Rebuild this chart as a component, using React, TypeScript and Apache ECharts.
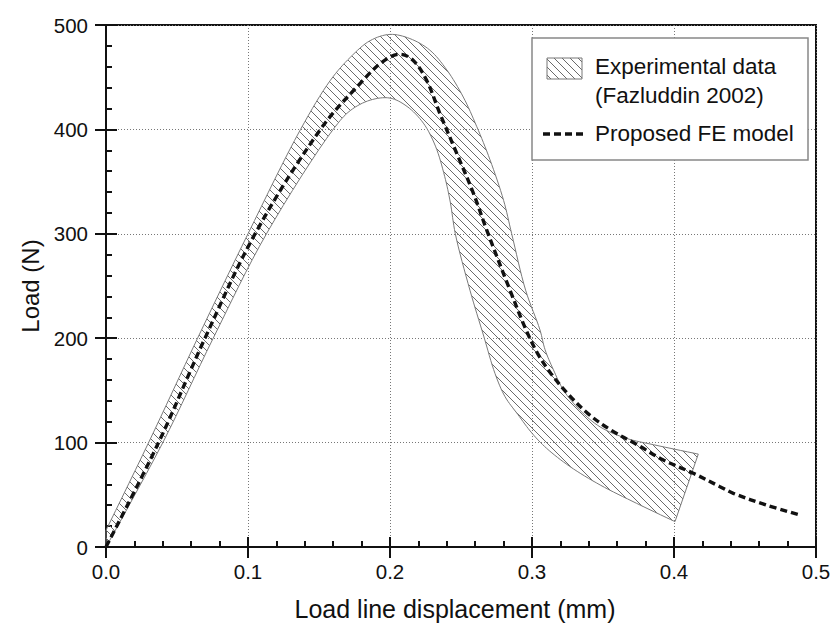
import React, { useEffect, useRef } from 'react';
import * as echarts from 'echarts';

// Axis ticks
const xTickValues = [0, 0.1, 0.2, 0.3, 0.4, 0.5];
const yTickValues = [0, 100, 200, 300, 400, 500];

// Experimental band: upper envelope [displacement (mm), load (N)]
const expUpper: number[][] = [
  [0.0, 16], [0.03, 100], [0.0645, 200], [0.1, 300], [0.137, 400], [0.158, 447],
  [0.172, 469], [0.186, 485], [0.2, 491], [0.214, 487], [0.228, 476], [0.24, 457],
  [0.2516, 431], [0.261, 403], [0.2704, 371], [0.28, 332], [0.2857, 300], [0.2955, 246],
  [0.3056, 208], [0.3092, 189], [0.315, 170], [0.3223, 150], [0.3338, 131], [0.348, 115],
  [0.3667, 104], [0.3855, 98], [0.4171, 89],
];

// Experimental band: lower envelope
const expLower: number[][] = [
  [0.0, 0], [0.04, 100], [0.0755, 200], [0.113, 300], [0.16, 400], [0.172, 418],
  [0.186, 428], [0.2, 430], [0.212, 422], [0.2235, 406], [0.232, 384], [0.2385, 355],
  [0.2425, 330], [0.246, 300], [0.2563, 246], [0.266, 202], [0.274, 166], [0.281, 144],
  [0.29, 127], [0.3, 109], [0.3103, 94.5], [0.3268, 77], [0.348, 59.4], [0.3737, 41.8],
  [0.4007, 24.3],
];

// Proposed FE model
const feModel: number[][] = [
  [0.0, 0], [0.037, 100], [0.0697, 200], [0.105, 300], [0.151, 400], [0.181, 447],
  [0.195, 465], [0.207, 472], [0.2164, 466], [0.2258, 447], [0.2352, 415], [0.247, 377],
  [0.2587, 339], [0.268, 304], [0.2845, 246], [0.2958, 208], [0.3039, 185.5], [0.3134, 166],
  [0.3251, 147], [0.3392, 128], [0.3556, 112], [0.3744, 97.7], [0.3925, 83.3], [0.4136, 70.6],
  [0.4324, 57.8], [0.4418, 51.4], [0.4655, 40], [0.4887, 30.6],
];

const legendExp1 = 'Experimental data';
const legendExp2 = '(Fazluddin 2002)';
const legendFE = 'Proposed FE model';
const xName = 'Load line displacement (mm)';
const yName = 'Load (N)';

const FONT = '"Liberation Sans", Arial, Helvetica, sans-serif';

function makeHatch(size: number, color: string) {
  const c = document.createElement('canvas');
  c.width = size;
  c.height = size;
  const ctx = c.getContext('2d')!;
  ctx.strokeStyle = color;
  ctx.lineWidth = 1;
  ctx.beginPath();
  for (const k of [-size, 0, size]) {
    ctx.moveTo(k, 0);
    ctx.lineTo(k + size, size);
  }
  ctx.stroke();
  return { image: c.toDataURL(), repeat: 'repeat', imageWidth: size, imageHeight: size } as any;
}

// Centripetal Catmull-Rom smoothing in pixel space (for drawing only)
function smoothPath(pts: number[][], steps = 8): number[][] {
  if (pts.length < 3) return pts;
  const out: number[][] = [];
  const P = [pts[0], ...pts, pts[pts.length - 1]];
  const tj = (ti: number, a: number[], b: number[]) =>
    ti + Math.max(Math.pow(Math.hypot(b[0] - a[0], b[1] - a[1]), 0.5), 1e-6);
  for (let i = 1; i < P.length - 2; i++) {
    const p0 = P[i - 1], p1 = P[i], p2 = P[i + 1], p3 = P[i + 2];
    const t0 = 0;
    const t1 = tj(t0, p0, p1);
    const t2 = tj(t1, p1, p2);
    const t3 = tj(t2, p2, p3);
    for (let s = 0; s < steps; s++) {
      const t = t1 + ((t2 - t1) * s) / steps;
      const lerp = (a: number[], b: number[], ta: number, tb: number) => {
        const d = tb - ta;
        return [((tb - t) / d) * a[0] + ((t - ta) / d) * b[0], ((tb - t) / d) * a[1] + ((t - ta) / d) * b[1]];
      };
      const A1 = lerp(p0, p1, t0, t1);
      const A2 = lerp(p1, p2, t1, t2);
      const A3 = lerp(p2, p3, t2, t3);
      const B1 = lerp(A1, A2, t0, t2);
      const B2 = lerp(A2, A3, t1, t3);
      out.push(lerp(B1, B2, t1, t2));
    }
  }
  out.push(pts[pts.length - 1]);
  return out;
}

export default function App() {
  const ref = useRef<HTMLDivElement>(null);

  useEffect(() => {
    if (!ref.current) return;
    const chart = echarts.init(ref.current, undefined, { renderer: 'svg' });
    const hatch = makeHatch(8, '#6a6a6a');

    const axisColor = '#111';
    const labelStyle = { fontSize: 20.5, color: axisColor, fontFamily: FONT };

    const option: any = {
      animation: false,
      backgroundColor: '#ffffff',
      grid: {
        left: 106,
        top: 25,
        right: 19,
        bottom: 81,
        show: true,
        borderColor: axisColor,
        borderWidth: 2,
        backgroundColor: 'transparent',
      },
      xAxis: [
        {
          type: 'value',
          min: xTickValues[0],
          max: xTickValues[xTickValues.length - 1],
          interval: 0.1,
          position: 'bottom',
          axisLine: { show: true, onZero: false, lineStyle: { color: axisColor, width: 2 } },
          axisTick: { show: true, inside: true, length: 10, lineStyle: { color: axisColor, width: 2 } },
          minorTick: { show: true, splitNumber: 5, length: 6, lineStyle: { color: axisColor, width: 2 } },
          axisLabel: { ...labelStyle, margin: 14, formatter: (v: number) => v.toFixed(1) },
          splitLine: { show: true, lineStyle: { color: '#777', width: 1, type: [1, 2] } },
          name: xName,
          nameLocation: 'middle',
          nameGap: 49,
          nameTextStyle: { fontSize: 25, color: axisColor, fontFamily: FONT, padding: [0, 12, 0, 0] },
        },
        {
          type: 'value',
          min: xTickValues[0],
          max: xTickValues[xTickValues.length - 1],
          interval: 0.1,
          position: 'bottom',
          axisLine: { show: false, onZero: false },
          axisTick: { show: true, inside: false, length: 11, lineStyle: { color: axisColor, width: 2 } },
          axisLabel: { show: false },
          splitLine: { show: false },
        },
      ],
      yAxis: [
        {
          type: 'value',
          min: yTickValues[0],
          max: yTickValues[yTickValues.length - 1],
          interval: 100,
          position: 'left',
          axisLine: { show: true, onZero: false, lineStyle: { color: axisColor, width: 2 } },
          axisTick: { show: true, inside: true, length: 11, lineStyle: { color: axisColor, width: 2 } },
          minorTick: { show: true, splitNumber: 5, length: 6, lineStyle: { color: axisColor, width: 2 } },
          axisLabel: { ...labelStyle, margin: 18 },
          splitLine: { show: true, lineStyle: { color: '#777', width: 1, type: [1, 2] } },
          name: yName,
          nameLocation: 'middle',
          nameGap: 63,
          nameTextStyle: { fontSize: 24, color: axisColor, fontFamily: FONT },
        },
        {
          type: 'value',
          min: yTickValues[0],
          max: yTickValues[yTickValues.length - 1],
          interval: 100,
          position: 'left',
          axisLine: { show: false, onZero: false },
          axisTick: { show: true, inside: false, length: 11, lineStyle: { color: axisColor, width: 2 } },
          axisLabel: { show: false },
          splitLine: { show: false },
        },
      ],
      series: [
        {
          type: 'custom',
          name: legendExp1,
          xAxisIndex: 0,
          yAxisIndex: 0,
          data: [[0, 0]],
          z: 3,
          renderItem: (_params: any, api: any) => {
            const up = smoothPath(expUpper.map((p) => api.coord(p)));
            const lo = smoothPath(expLower.map((p) => api.coord(p)));
            const pts = [...up, ...lo.slice().reverse()];
            return {
              type: 'polygon',
              shape: { points: pts },
              style: { fill: hatch, stroke: '#7a7a7a', lineWidth: 1 },
            };
          },
        },
        {
          type: 'line',
          name: legendFE,
          xAxisIndex: 0,
          yAxisIndex: 0,
          data: feModel,
          smooth: 0.35,
          symbol: 'none',
          z: 4,
          lineStyle: { color: '#111', width: 3.4, type: [7, 4] },
        },
      ],
      graphic: [
        {
          type: 'rect',
          z: 100,
          shape: { x: 532, y: 38, width: 276, height: 122 },
          style: { fill: '#fff', stroke: '#888', lineWidth: 1.5 },
        },
        {
          type: 'rect',
          z: 101,
          shape: { x: 547, y: 58, width: 35, height: 21 },
          style: { fill: hatch, stroke: '#777', lineWidth: 1 },
        },
        {
          type: 'text',
          z: 101,
          x: 595,
          y: 66,
          style: { text: legendExp1, fontSize: 22.5, fontFamily: FONT, fill: '#111', verticalAlign: 'middle' },
        },
        {
          type: 'text',
          z: 101,
          x: 595,
          y: 95,
          style: { text: legendExp2, fontSize: 22.5, fontFamily: FONT, fill: '#111', verticalAlign: 'middle' },
        },
        {
          type: 'line',
          z: 101,
          shape: { x1: 543, y1: 134, x2: 584, y2: 134 },
          style: { stroke: '#111', lineWidth: 3.4, lineDash: [7, 4] },
        },
        {
          type: 'text',
          z: 101,
          x: 595,
          y: 133,
          style: { text: legendFE, fontSize: 22.5, fontFamily: FONT, fill: '#111', verticalAlign: 'middle' },
        },
      ],
    };

    chart.setOption(option);
    return () => chart.dispose();
  }, []);

  return (
    <div
      ref={ref}
      style={{ position: 'fixed', left: 0, top: 0, width: 835, height: 628, background: '#fff' }}
    />
  );
}
